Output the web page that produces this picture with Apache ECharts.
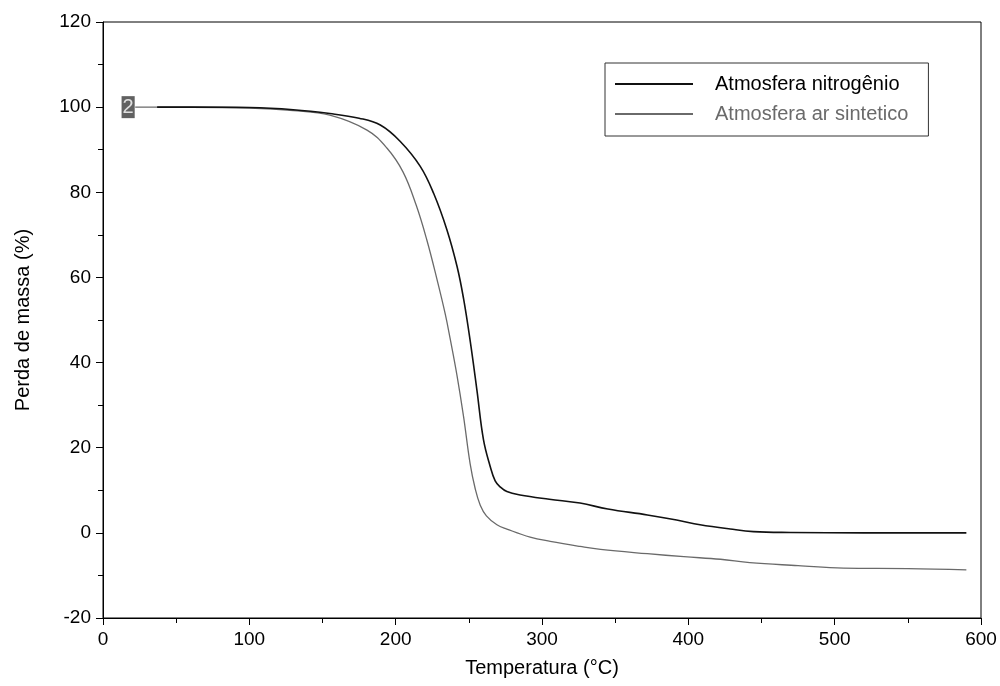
<!DOCTYPE html>
<html>
<head>
<meta charset="utf-8">
<script src="https://cdn.jsdelivr.net/npm/echarts@6/dist/echarts.min.js"></script>
<style>
html,body{margin:0;padding:0;background:#fff;}
#chart{width:1000px;height:686px;}
</style>
</head>
<body>
<div id="chart"></div>
<script>
// Data
var seriesNames = ['Atmosfera nitrogênio', 'Atmosfera ar sintetico'];

var tempNitrogen = [37, 60, 100, 130, 155, 175, 189.5, 203, 216.8, 226, 235, 242, 246.4, 251, 255.5, 260, 264.6, 268, 271.4, 276, 285, 305, 326, 345, 372, 392, 408, 428.6, 444.5, 470, 520, 590];
var massNitrogen = [100, 100, 99.9, 99.4, 98.5, 97.4, 95.8, 92.0, 86.1, 79.7, 71.2, 62.5, 55.0, 44.9, 33.6, 21.9, 15.6, 12.2, 10.8, 9.7, 8.9, 7.9, 7.0, 5.6, 4.2, 3.0, 1.9, 0.9, 0.3, 0.1, 0, 0];

var tempAir = [22, 60, 100, 130, 155, 180.4, 194, 205, 214, 221.3, 228.2, 233.9, 237.3, 241.9, 246.4, 250.9, 254.4, 257.8, 262, 269.2, 276, 291.9, 305.6, 326, 340, 372, 397, 422, 442, 475, 506, 550, 590];
var massAir = [100, 100, 99.8, 99.2, 98.1, 94.6, 90.4, 84.8, 77.0, 68.8, 59.6, 51.4, 45.5, 37.0, 27.3, 16.2, 10.3, 6.5, 4.0, 1.9, 0.9, -1.0, -2.0, -3.2, -3.9, -4.9, -5.6, -6.2, -7.0, -7.7, -8.3, -8.4, -8.7];

var startLabel = '2';

var xTicks = {min: 0, max: 600, interval: 100};
var yTicks = {min: -20, max: 120, interval: 20};

function pairs(xs, ys) {
  return xs.map(function (x, i) { return [x, ys[i]]; });
}

var font = 'Liberation Sans';
var chart = echarts.init(document.getElementById('chart'), null, {renderer: 'canvas'});
chart.setOption({
  backgroundColor: '#fff',
  animation: false,
  grid: {left: 103, right: 19, top: 22, bottom: 68, show: true, borderColor: '#000', borderWidth: 1},
  legend: {
    data: [
      {name: seriesNames[0], textStyle: {color: '#000'}},
      {name: seriesNames[1], textStyle: {color: '#6a6a6a'}}
    ],
    orient: 'vertical',
    left: 605, top: 63,
    width: 318,
    icon: 'rect',
    itemWidth: 78, itemHeight: 2,
    itemGap: 10,
    padding: [11, 20, 12, 10],
    borderColor: '#333', borderWidth: 1,
    textStyle: {fontFamily: font, fontSize: 20, padding: [0, 0, 0, 17]}
  },
  xAxis: {
    type: 'value', min: xTicks.min, max: xTicks.max, interval: xTicks.interval,
    name: 'Temperatura (°C)', nameLocation: 'middle', nameGap: 40,
    nameTextStyle: {fontFamily: font, fontSize: 20, color: '#000'},
    axisLine: {show: true, onZero: false, lineStyle: {color: '#000', width: 1}},
    axisTick: {show: true, inside: false, length: 7, lineStyle: {color: '#000'}},
    minorTick: {show: true, splitNumber: 2, length: 5, lineStyle: {color: '#000'}},
    splitLine: {show: false},
    axisLabel: {fontFamily: font, fontSize: 19, color: '#000', margin: 12}
  },
  yAxis: {
    type: 'value', min: yTicks.min, max: yTicks.max, interval: yTicks.interval,
    name: 'Perda de massa (%)', nameLocation: 'middle', nameGap: 70,
    nameTextStyle: {fontFamily: font, fontSize: 20, color: '#000'},
    axisLine: {show: true, onZero: false, lineStyle: {color: '#000', width: 1}},
    axisTick: {show: true, inside: false, length: 7, lineStyle: {color: '#000'}},
    minorTick: {show: true, splitNumber: 2, length: 5, lineStyle: {color: '#000'}},
    splitLine: {show: false},
    axisLabel: {fontFamily: font, fontSize: 19, color: '#000', margin: 12}
  },
  series: [
    {
      name: seriesNames[1], type: 'line', data: pairs(tempAir, massAir),
      symbol: 'none', smooth: 0.4, z: 2,
      lineStyle: {color: '#6a6a6a', width: 1.3}, itemStyle: {color: '#6a6a6a'}
    },
    {
      name: seriesNames[0], type: 'line', data: pairs(tempNitrogen, massNitrogen),
      symbol: 'none', smooth: 0.4, z: 3,
      lineStyle: {color: '#111', width: 1.6}, itemStyle: {color: '#111'}
    },
    {
      name: 'start-label', type: 'scatter',
      data: [[tempAir[0], massAir[0]]],
      symbolSize: 1, itemStyle: {color: 'rgba(0,0,0,0)'}, z: 4,
      silent: true,
      label: {
        show: true, formatter: startLabel, position: 'left', distance: 0,
        color: '#fff', backgroundColor: '#3a3a3a', fontSize: 20,
        fontFamily: font, padding: [1, 1, 1, 1]
      }
    }
  ]
});
</script>
</body>
</html>
